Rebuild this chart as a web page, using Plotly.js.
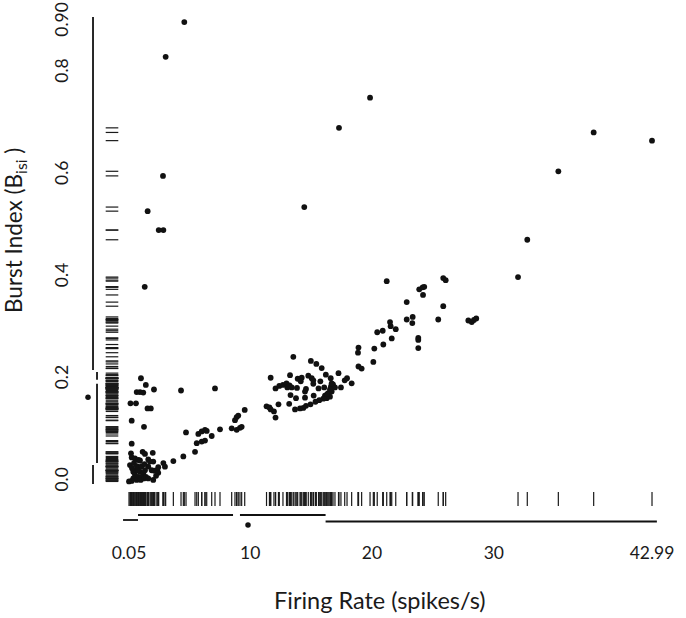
<!DOCTYPE html>
<html><head><meta charset="utf-8">
<script src="https://cdn.plot.ly/plotly-3.0.1.min.js"></script>
<style>html,body{margin:0;padding:0;background:#fff;} #chart{width:686px;height:618px;}</style>
</head><body><div id="chart"></div>
<script>
const firingRate = [4.59,3.06,19.84,17.29,38.20,42.99,35.30,2.84,1.58,14.44,2.49,2.87,32.75,31.99,1.34,21.21,25.85,26.05,23.88,24.16,24.29,24.19,22.85,25.85,22.85,23.34,23.31,25.44,27.91,28.19,28.37,28.56,23.80,23.80,23.80,21.48,21.53,20.88,20.43,21.95,21.62,20.93,20.19,18.89,18.85,20.11,18.89,19.15,
13.54,14.98,15.43,15.87,11.68,13.27,14.23,13.90,14.15,14.77,15.05,15.18,15.76,16.21,16.61,17.25,17.76,17.95,18.33,12.08,12.39,12.69,12.98,13.23,13.41,13.84,14.58,15.18,15.61,16.08,16.63,16.80,16.96,17.45,13.31,13.76,14.50,14.50,15.21,16.14,16.41,16.55,16.28,16.69,16.00,15.67,15.36,14.95,14.58,14.36,14.09,13.68,12.32,13.20,11.34,11.58,11.95,12.08,11.68,13.05,16.69,16.55,16.32,
7.11,4.32,4.73,5.74,6.02,6.29,6.43,5.61,6.02,6.29,6.84,7.52,8.48,8.89,9.16,9.30,8.75,8.89,9.02,9.55,5.47,4.51,3.69,2.87,3.00,
1.03,1.43,0.68,0.95,1.22,2.10,0.17,0.62,1.57,1.84,0.27,1.28,0.27,0.21,0.27,0.54,0.81,0.95,1.17,1.36,2.00,1.63,1.77,2.04,1.63,1.91,2.45,2.37,2.13,0.40,0.68,0.95,1.22,0.54,0.81,1.09,0.40,0.68,1.01,1.28,0.27,0.81,1.36,1.44,1.63,2.04,0.05,0.13,0.30,0.46,0.70,1.08,1.32,2.45,2.27];
const burstIndex = [0.900,0.832,0.752,0.693,0.684,0.668,0.608,0.599,0.530,0.538,0.493,0.493,0.474,0.401,0.382,0.393,0.399,0.395,0.377,0.381,0.382,0.366,0.352,0.344,0.318,0.323,0.311,0.318,0.316,0.313,0.317,0.320,0.282,0.278,0.262,0.313,0.305,0.296,0.293,0.299,0.281,0.269,0.261,0.263,0.253,0.235,0.226,0.222,
0.245,0.237,0.231,0.223,0.204,0.209,0.204,0.202,0.197,0.208,0.203,0.199,0.197,0.210,0.203,0.213,0.199,0.203,0.193,0.183,0.188,0.190,0.193,0.189,0.185,0.184,0.182,0.192,0.183,0.185,0.187,0.191,0.185,0.185,0.170,0.164,0.177,0.165,0.169,0.169,0.174,0.167,0.164,0.177,0.163,0.160,0.157,0.152,0.149,0.145,0.144,0.142,0.152,0.153,0.148,0.146,0.138,0.126,0.142,0.185,0.193,0.181,0.172,
0.183,0.179,0.097,0.094,0.099,0.102,0.100,0.076,0.079,0.081,0.090,0.103,0.105,0.102,0.106,0.108,0.121,0.127,0.130,0.141,0.059,0.050,0.041,0.037,0.030,
0.203,0.190,0.176,0.176,0.175,0.181,0.154,0.154,0.144,0.144,0.120,0.108,0.075,0.056,0.048,0.046,0.043,0.042,0.059,0.055,0.057,0.044,0.040,0.040,0.030,0.023,0.029,0.023,0.022,0.020,0.023,0.020,0.017,0.014,0.010,0.010,0.007,0.004,0.004,0.007,0.002,0.023,0.023,0.010,0.007,0.004,0.001,0.033,0.027,0.037,0.031,0.031,0.035,0.018,0.012];

const xTickVals = [0.05, 10, 20, 30, 42.99];
const xTickText = ['0.05', '10', '20', '30', '42.99'];
const yTickVals = [0, 0.2, 0.4, 0.6, 0.8, 0.9];
const yTickText = ['0.0', '0.2', '0.4', '0.6', '0.8', '0.90'];

// quartile range-frame pieces (data units): min-Q1, Q1-median, median-Q3, Q3-max
const yFrameSegments = [[-0.004, 0.033], [0.037, 0.192], [0.200, 0.215], [0.219, 0.910]];
const yFrameMedian = 0.166;
const xFrameSegments = [[-0.44, 0.79], [0.79, 8.59], [9.16, 16.19], [16.19, 43.39]];
const xFrameMedian = 9.82;
const yRugSkip = [0, 1, 2];
const xRugSkip = [28, 29, 30, 31];

// placement constants (data units on the opposite axis)
const Y_FRAME_X = [-2.906, -2.578, -2.578, -2.906];
const Y_MED_X = -3.317;
const Y_RUG_X = -1.347;
const X_FRAME_Y = [-0.0744, -0.0646, -0.0646, -0.0773];
const X_MED_Y = -0.0841;
const X_RUG_Y = -0.0333;

const ink = '#111';
const shapes = [];
yFrameSegments.forEach((s, i) => shapes.push({type: 'line', xref: 'x', yref: 'y', x0: Y_FRAME_X[i], x1: Y_FRAME_X[i], y0: s[0], y1: s[1], line: {color: ink, width: 1.8}}));
xFrameSegments.forEach((s, i) => shapes.push({type: 'line', xref: 'x', yref: 'y', x0: s[0], x1: s[1], y0: X_FRAME_Y[i], y1: X_FRAME_Y[i], line: {color: ink, width: 1.8}}));

const yRugVals = burstIndex.filter((v, i) => !yRugSkip.includes(i));
const xRugVals = firingRate.filter((v, i) => !xRugSkip.includes(i));

const traces = [
  {type: 'scatter', mode: 'markers', x: firingRate, y: burstIndex, cliponaxis: false,
   marker: {color: ink, size: 5.8}, hoverinfo: 'x+y'},
  {type: 'scatter', mode: 'markers', x: yRugVals.map(() => Y_RUG_X), y: yRugVals, cliponaxis: false,
   marker: {symbol: 'line-ew', size: 9, color: ink, line: {color: '#1a1a1a', width: 1.2}}, hoverinfo: 'skip'},
  {type: 'scatter', mode: 'markers', x: xRugVals, y: xRugVals.map(() => X_RUG_Y), cliponaxis: false,
   marker: {symbol: 'line-ns', size: 10, color: ink, line: {color: '#1a1a1a', width: 1.2}}, hoverinfo: 'skip'},
  {type: 'scatter', mode: 'markers', x: [Y_MED_X, xFrameMedian], y: [yFrameMedian, X_MED_Y], cliponaxis: false,
   marker: {color: ink, size: 5.5}, hoverinfo: 'skip'}
];

const fam = 'Lato, "Open Sans", sans-serif';
const tickFont = {family: fam, size: 17.5, color: '#1a1a1a'};
const layout = {
  width: 686, height: 618,
  margin: {l: 82, r: 10, t: 7, b: 75},
  paper_bgcolor: '#fff', plot_bgcolor: '#fff',
  showlegend: false,
  xaxis: {range: [-3.81, 44.96], tickvals: xTickVals, ticktext: xTickText, showgrid: false, zeroline: false,
          showline: false, ticks: '', tickfont: tickFont, ticklabelstandoff: -3, fixedrange: true},
  yaxis: {range: [-0.1194, 0.9295], tickvals: yTickVals, ticktext: yTickText, showgrid: false, zeroline: false,
          showline: false, ticks: '', tickangle: -90, tickfont: tickFont, ticklabelstandoff: 10, fixedrange: true},
  shapes: shapes,
  annotations: [
    {xref: 'paper', yref: 'paper', x: 0.5017, y: -0.1063, xanchor: 'center', yanchor: 'middle', showarrow: false,
     text: 'Firing Rate (spikes/s)', font: {family: fam, size: 23.5, color: '#1a1a1a'}},
    {xref: 'paper', yref: 'paper', x: -0.1128, y: 0.584, xanchor: 'center', yanchor: 'middle', showarrow: false, textangle: -90,
     text: 'Burst Index (B<sub>isi</sub> )', font: {family: fam, size: 22.5, color: '#1a1a1a'}}
  ]
};
Plotly.newPlot('chart', traces, layout, {displayModeBar: false, staticPlot: true});
</script>
</body></html>
